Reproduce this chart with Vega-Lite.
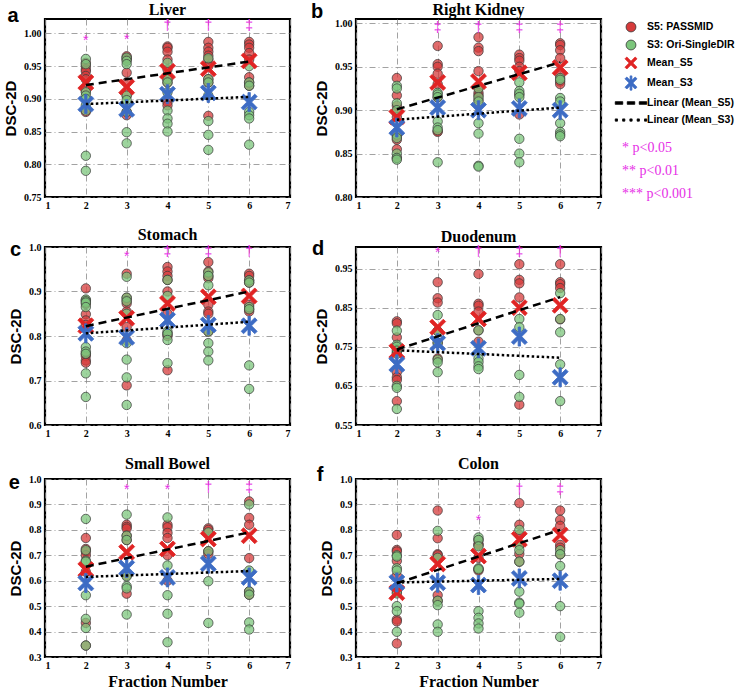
{
"$schema": "https://vega.github.io/schema/vega-lite/v6.json",
"padding": {"left": 2, "top": 0, "right": 0, "bottom": 0},
"background": "white",
"columns": 2,
"spacing": {"row": 14, "column": 17},
"datasets": {
"pts": [
{"o":"Liver","f":2,"s":"S5: PASSMID","v":0.955},{"o":"Liver","f":2,"s":"S5: PASSMID","v":0.950},{"o":"Liver","f":2,"s":"S5: PASSMID","v":0.945},{"o":"Liver","f":2,"s":"S5: PASSMID","v":0.942},{"o":"Liver","f":2,"s":"S5: PASSMID","v":0.935},{"o":"Liver","f":2,"s":"S5: PASSMID","v":0.930},{"o":"Liver","f":2,"s":"S5: PASSMID","v":0.912},{"o":"Liver","f":2,"s":"S5: PASSMID","v":0.885},{"o":"Liver","f":2,"s":"S5: PASSMID","v":0.880},
{"o":"Liver","f":2,"s":"S3: Ori-SingleDIR","v":0.961},{"o":"Liver","f":2,"s":"S3: Ori-SingleDIR","v":0.953},{"o":"Liver","f":2,"s":"S3: Ori-SingleDIR","v":0.910},{"o":"Liver","f":2,"s":"S3: Ori-SingleDIR","v":0.905},{"o":"Liver","f":2,"s":"S3: Ori-SingleDIR","v":0.900},{"o":"Liver","f":2,"s":"S3: Ori-SingleDIR","v":0.890},{"o":"Liver","f":2,"s":"S3: Ori-SingleDIR","v":0.882},{"o":"Liver","f":2,"s":"S3: Ori-SingleDIR","v":0.813},{"o":"Liver","f":2,"s":"S3: Ori-SingleDIR","v":0.790},
{"o":"Liver","f":3,"s":"S5: PASSMID","v":0.965},{"o":"Liver","f":3,"s":"S5: PASSMID","v":0.962},{"o":"Liver","f":3,"s":"S5: PASSMID","v":0.960},{"o":"Liver","f":3,"s":"S5: PASSMID","v":0.940},{"o":"Liver","f":3,"s":"S5: PASSMID","v":0.925},{"o":"Liver","f":3,"s":"S5: PASSMID","v":0.905},{"o":"Liver","f":3,"s":"S5: PASSMID","v":0.880},{"o":"Liver","f":3,"s":"S5: PASSMID","v":0.875},
{"o":"Liver","f":3,"s":"S3: Ori-SingleDIR","v":0.963},{"o":"Liver","f":3,"s":"S3: Ori-SingleDIR","v":0.958},{"o":"Liver","f":3,"s":"S3: Ori-SingleDIR","v":0.953},{"o":"Liver","f":3,"s":"S3: Ori-SingleDIR","v":0.905},{"o":"Liver","f":3,"s":"S3: Ori-SingleDIR","v":0.898},{"o":"Liver","f":3,"s":"S3: Ori-SingleDIR","v":0.880},{"o":"Liver","f":3,"s":"S3: Ori-SingleDIR","v":0.849},{"o":"Liver","f":3,"s":"S3: Ori-SingleDIR","v":0.832},
{"o":"Liver","f":4,"s":"S5: PASSMID","v":0.980},{"o":"Liver","f":4,"s":"S5: PASSMID","v":0.978},{"o":"Liver","f":4,"s":"S5: PASSMID","v":0.972},{"o":"Liver","f":4,"s":"S5: PASSMID","v":0.960},{"o":"Liver","f":4,"s":"S5: PASSMID","v":0.945},{"o":"Liver","f":4,"s":"S5: PASSMID","v":0.930},{"o":"Liver","f":4,"s":"S5: PASSMID","v":0.925},{"o":"Liver","f":4,"s":"S5: PASSMID","v":0.895},{"o":"Liver","f":4,"s":"S5: PASSMID","v":0.890},
{"o":"Liver","f":4,"s":"S3: Ori-SingleDIR","v":0.955},{"o":"Liver","f":4,"s":"S3: Ori-SingleDIR","v":0.930},{"o":"Liver","f":4,"s":"S3: Ori-SingleDIR","v":0.925},{"o":"Liver","f":4,"s":"S3: Ori-SingleDIR","v":0.910},{"o":"Liver","f":4,"s":"S3: Ori-SingleDIR","v":0.882},{"o":"Liver","f":4,"s":"S3: Ori-SingleDIR","v":0.870},{"o":"Liver","f":4,"s":"S3: Ori-SingleDIR","v":0.862},{"o":"Liver","f":4,"s":"S3: Ori-SingleDIR","v":0.850},
{"o":"Liver","f":5,"s":"S5: PASSMID","v":0.987},{"o":"Liver","f":5,"s":"S5: PASSMID","v":0.978},{"o":"Liver","f":5,"s":"S5: PASSMID","v":0.972},{"o":"Liver","f":5,"s":"S5: PASSMID","v":0.966},{"o":"Liver","f":5,"s":"S5: PASSMID","v":0.960},{"o":"Liver","f":5,"s":"S5: PASSMID","v":0.950},{"o":"Liver","f":5,"s":"S5: PASSMID","v":0.930},{"o":"Liver","f":5,"s":"S5: PASSMID","v":0.925},{"o":"Liver","f":5,"s":"S5: PASSMID","v":0.874},
{"o":"Liver","f":5,"s":"S3: Ori-SingleDIR","v":0.962},{"o":"Liver","f":5,"s":"S3: Ori-SingleDIR","v":0.930},{"o":"Liver","f":5,"s":"S3: Ori-SingleDIR","v":0.925},{"o":"Liver","f":5,"s":"S3: Ori-SingleDIR","v":0.905},{"o":"Liver","f":5,"s":"S3: Ori-SingleDIR","v":0.866},{"o":"Liver","f":5,"s":"S3: Ori-SingleDIR","v":0.845},{"o":"Liver","f":5,"s":"S3: Ori-SingleDIR","v":0.822},
{"o":"Liver","f":6,"s":"S5: PASSMID","v":0.987},{"o":"Liver","f":6,"s":"S5: PASSMID","v":0.983},{"o":"Liver","f":6,"s":"S5: PASSMID","v":0.978},{"o":"Liver","f":6,"s":"S5: PASSMID","v":0.970},{"o":"Liver","f":6,"s":"S5: PASSMID","v":0.960},{"o":"Liver","f":6,"s":"S5: PASSMID","v":0.933},{"o":"Liver","f":6,"s":"S5: PASSMID","v":0.925},{"o":"Liver","f":6,"s":"S5: PASSMID","v":0.920},
{"o":"Liver","f":6,"s":"S3: Ori-SingleDIR","v":0.950},{"o":"Liver","f":6,"s":"S3: Ori-SingleDIR","v":0.925},{"o":"Liver","f":6,"s":"S3: Ori-SingleDIR","v":0.920},{"o":"Liver","f":6,"s":"S3: Ori-SingleDIR","v":0.880},{"o":"Liver","f":6,"s":"S3: Ori-SingleDIR","v":0.875},{"o":"Liver","f":6,"s":"S3: Ori-SingleDIR","v":0.870},{"o":"Liver","f":6,"s":"S3: Ori-SingleDIR","v":0.830},

{"o":"Right Kidney","f":2,"s":"S5: PASSMID","v":0.937},{"o":"Right Kidney","f":2,"s":"S5: PASSMID","v":0.917},{"o":"Right Kidney","f":2,"s":"S5: PASSMID","v":0.905},{"o":"Right Kidney","f":2,"s":"S5: PASSMID","v":0.898},{"o":"Right Kidney","f":2,"s":"S5: PASSMID","v":0.892},{"o":"Right Kidney","f":2,"s":"S5: PASSMID","v":0.870},{"o":"Right Kidney","f":2,"s":"S5: PASSMID","v":0.866},{"o":"Right Kidney","f":2,"s":"S5: PASSMID","v":0.855},{"o":"Right Kidney","f":2,"s":"S5: PASSMID","v":0.845},
{"o":"Right Kidney","f":2,"s":"S3: Ori-SingleDIR","v":0.928},{"o":"Right Kidney","f":2,"s":"S3: Ori-SingleDIR","v":0.925},{"o":"Right Kidney","f":2,"s":"S3: Ori-SingleDIR","v":0.908},{"o":"Right Kidney","f":2,"s":"S3: Ori-SingleDIR","v":0.900},{"o":"Right Kidney","f":2,"s":"S3: Ori-SingleDIR","v":0.872},{"o":"Right Kidney","f":2,"s":"S3: Ori-SingleDIR","v":0.868},{"o":"Right Kidney","f":2,"s":"S3: Ori-SingleDIR","v":0.850},{"o":"Right Kidney","f":2,"s":"S3: Ori-SingleDIR","v":0.845},{"o":"Right Kidney","f":2,"s":"S3: Ori-SingleDIR","v":0.843},
{"o":"Right Kidney","f":3,"s":"S5: PASSMID","v":0.974},{"o":"Right Kidney","f":3,"s":"S5: PASSMID","v":0.953},{"o":"Right Kidney","f":3,"s":"S5: PASSMID","v":0.950},{"o":"Right Kidney","f":3,"s":"S5: PASSMID","v":0.942},{"o":"Right Kidney","f":3,"s":"S5: PASSMID","v":0.930},{"o":"Right Kidney","f":3,"s":"S5: PASSMID","v":0.915},{"o":"Right Kidney","f":3,"s":"S5: PASSMID","v":0.876},{"o":"Right Kidney","f":3,"s":"S5: PASSMID","v":0.875},
{"o":"Right Kidney","f":3,"s":"S3: Ori-SingleDIR","v":0.920},{"o":"Right Kidney","f":3,"s":"S3: Ori-SingleDIR","v":0.918},{"o":"Right Kidney","f":3,"s":"S3: Ori-SingleDIR","v":0.915},{"o":"Right Kidney","f":3,"s":"S3: Ori-SingleDIR","v":0.887},{"o":"Right Kidney","f":3,"s":"S3: Ori-SingleDIR","v":0.880},{"o":"Right Kidney","f":3,"s":"S3: Ori-SingleDIR","v":0.877},{"o":"Right Kidney","f":3,"s":"S3: Ori-SingleDIR","v":0.840},
{"o":"Right Kidney","f":4,"s":"S5: PASSMID","v":0.984},{"o":"Right Kidney","f":4,"s":"S5: PASSMID","v":0.972},{"o":"Right Kidney","f":4,"s":"S5: PASSMID","v":0.968},{"o":"Right Kidney","f":4,"s":"S5: PASSMID","v":0.945},{"o":"Right Kidney","f":4,"s":"S5: PASSMID","v":0.926},{"o":"Right Kidney","f":4,"s":"S5: PASSMID","v":0.920},{"o":"Right Kidney","f":4,"s":"S5: PASSMID","v":0.917},{"o":"Right Kidney","f":4,"s":"S5: PASSMID","v":0.912},
{"o":"Right Kidney","f":4,"s":"S3: Ori-SingleDIR","v":0.925},{"o":"Right Kidney","f":4,"s":"S3: Ori-SingleDIR","v":0.915},{"o":"Right Kidney","f":4,"s":"S3: Ori-SingleDIR","v":0.910},{"o":"Right Kidney","f":4,"s":"S3: Ori-SingleDIR","v":0.885},{"o":"Right Kidney","f":4,"s":"S3: Ori-SingleDIR","v":0.873},{"o":"Right Kidney","f":4,"s":"S3: Ori-SingleDIR","v":0.836},{"o":"Right Kidney","f":4,"s":"S3: Ori-SingleDIR","v":0.835},
{"o":"Right Kidney","f":5,"s":"S5: PASSMID","v":0.964},{"o":"Right Kidney","f":5,"s":"S5: PASSMID","v":0.960},{"o":"Right Kidney","f":5,"s":"S5: PASSMID","v":0.957},{"o":"Right Kidney","f":5,"s":"S5: PASSMID","v":0.950},{"o":"Right Kidney","f":5,"s":"S5: PASSMID","v":0.945},{"o":"Right Kidney","f":5,"s":"S5: PASSMID","v":0.918},{"o":"Right Kidney","f":5,"s":"S5: PASSMID","v":0.895},
{"o":"Right Kidney","f":5,"s":"S3: Ori-SingleDIR","v":0.932},{"o":"Right Kidney","f":5,"s":"S3: Ori-SingleDIR","v":0.922},{"o":"Right Kidney","f":5,"s":"S3: Ori-SingleDIR","v":0.919},{"o":"Right Kidney","f":5,"s":"S3: Ori-SingleDIR","v":0.915},{"o":"Right Kidney","f":5,"s":"S3: Ori-SingleDIR","v":0.867},{"o":"Right Kidney","f":5,"s":"S3: Ori-SingleDIR","v":0.850},{"o":"Right Kidney","f":5,"s":"S3: Ori-SingleDIR","v":0.840},
{"o":"Right Kidney","f":6,"s":"S5: PASSMID","v":0.977},{"o":"Right Kidney","f":6,"s":"S5: PASSMID","v":0.975},{"o":"Right Kidney","f":6,"s":"S5: PASSMID","v":0.969},{"o":"Right Kidney","f":6,"s":"S5: PASSMID","v":0.960},{"o":"Right Kidney","f":6,"s":"S5: PASSMID","v":0.940},{"o":"Right Kidney","f":6,"s":"S5: PASSMID","v":0.933},{"o":"Right Kidney","f":6,"s":"S5: PASSMID","v":0.930},
{"o":"Right Kidney","f":6,"s":"S3: Ori-SingleDIR","v":0.937},{"o":"Right Kidney","f":6,"s":"S3: Ori-SingleDIR","v":0.935},{"o":"Right Kidney","f":6,"s":"S3: Ori-SingleDIR","v":0.914},{"o":"Right Kidney","f":6,"s":"S3: Ori-SingleDIR","v":0.910},{"o":"Right Kidney","f":6,"s":"S3: Ori-SingleDIR","v":0.885},{"o":"Right Kidney","f":6,"s":"S3: Ori-SingleDIR","v":0.875},{"o":"Right Kidney","f":6,"s":"S3: Ori-SingleDIR","v":0.872},{"o":"Right Kidney","f":6,"s":"S3: Ori-SingleDIR","v":0.870},

{"o":"Stomach","f":2,"s":"S5: PASSMID","v":0.907},{"o":"Stomach","f":2,"s":"S5: PASSMID","v":0.880},{"o":"Stomach","f":2,"s":"S5: PASSMID","v":0.872},{"o":"Stomach","f":2,"s":"S5: PASSMID","v":0.849},{"o":"Stomach","f":2,"s":"S5: PASSMID","v":0.835},{"o":"Stomach","f":2,"s":"S5: PASSMID","v":0.825},{"o":"Stomach","f":2,"s":"S5: PASSMID","v":0.760},{"o":"Stomach","f":2,"s":"S5: PASSMID","v":0.755},{"o":"Stomach","f":2,"s":"S5: PASSMID","v":0.745},{"o":"Stomach","f":2,"s":"S5: PASSMID","v":0.740},
{"o":"Stomach","f":2,"s":"S3: Ori-SingleDIR","v":0.882},{"o":"Stomach","f":2,"s":"S3: Ori-SingleDIR","v":0.878},{"o":"Stomach","f":2,"s":"S3: Ori-SingleDIR","v":0.875},{"o":"Stomach","f":2,"s":"S3: Ori-SingleDIR","v":0.865},{"o":"Stomach","f":2,"s":"S3: Ori-SingleDIR","v":0.775},{"o":"Stomach","f":2,"s":"S3: Ori-SingleDIR","v":0.765},{"o":"Stomach","f":2,"s":"S3: Ori-SingleDIR","v":0.760},{"o":"Stomach","f":2,"s":"S3: Ori-SingleDIR","v":0.716},{"o":"Stomach","f":2,"s":"S3: Ori-SingleDIR","v":0.663},
{"o":"Stomach","f":3,"s":"S5: PASSMID","v":0.940},{"o":"Stomach","f":3,"s":"S5: PASSMID","v":0.886},{"o":"Stomach","f":3,"s":"S5: PASSMID","v":0.880},{"o":"Stomach","f":3,"s":"S5: PASSMID","v":0.873},{"o":"Stomach","f":3,"s":"S5: PASSMID","v":0.855},{"o":"Stomach","f":3,"s":"S5: PASSMID","v":0.820},{"o":"Stomach","f":3,"s":"S5: PASSMID","v":0.790},{"o":"Stomach","f":3,"s":"S5: PASSMID","v":0.689},
{"o":"Stomach","f":3,"s":"S3: Ori-SingleDIR","v":0.933},{"o":"Stomach","f":3,"s":"S3: Ori-SingleDIR","v":0.886},{"o":"Stomach","f":3,"s":"S3: Ori-SingleDIR","v":0.878},{"o":"Stomach","f":3,"s":"S3: Ori-SingleDIR","v":0.850},{"o":"Stomach","f":3,"s":"S3: Ori-SingleDIR","v":0.784},{"o":"Stomach","f":3,"s":"S3: Ori-SingleDIR","v":0.747},{"o":"Stomach","f":3,"s":"S3: Ori-SingleDIR","v":0.707},{"o":"Stomach","f":3,"s":"S3: Ori-SingleDIR","v":0.645},
{"o":"Stomach","f":4,"s":"S5: PASSMID","v":0.955},{"o":"Stomach","f":4,"s":"S5: PASSMID","v":0.945},{"o":"Stomach","f":4,"s":"S5: PASSMID","v":0.935},{"o":"Stomach","f":4,"s":"S5: PASSMID","v":0.926},{"o":"Stomach","f":4,"s":"S5: PASSMID","v":0.900},{"o":"Stomach","f":4,"s":"S5: PASSMID","v":0.850},{"o":"Stomach","f":4,"s":"S5: PASSMID","v":0.805},{"o":"Stomach","f":4,"s":"S5: PASSMID","v":0.800},{"o":"Stomach","f":4,"s":"S5: PASSMID","v":0.723},
{"o":"Stomach","f":4,"s":"S3: Ori-SingleDIR","v":0.926},{"o":"Stomach","f":4,"s":"S3: Ori-SingleDIR","v":0.890},{"o":"Stomach","f":4,"s":"S3: Ori-SingleDIR","v":0.810},{"o":"Stomach","f":4,"s":"S3: Ori-SingleDIR","v":0.805},{"o":"Stomach","f":4,"s":"S3: Ori-SingleDIR","v":0.791},{"o":"Stomach","f":4,"s":"S3: Ori-SingleDIR","v":0.739},
{"o":"Stomach","f":5,"s":"S5: PASSMID","v":0.966},{"o":"Stomach","f":5,"s":"S5: PASSMID","v":0.945},{"o":"Stomach","f":5,"s":"S5: PASSMID","v":0.935},{"o":"Stomach","f":5,"s":"S5: PASSMID","v":0.930},{"o":"Stomach","f":5,"s":"S5: PASSMID","v":0.870},{"o":"Stomach","f":5,"s":"S5: PASSMID","v":0.855},{"o":"Stomach","f":5,"s":"S5: PASSMID","v":0.850},{"o":"Stomach","f":5,"s":"S5: PASSMID","v":0.810},
{"o":"Stomach","f":5,"s":"S3: Ori-SingleDIR","v":0.943},{"o":"Stomach","f":5,"s":"S3: Ori-SingleDIR","v":0.935},{"o":"Stomach","f":5,"s":"S3: Ori-SingleDIR","v":0.914},{"o":"Stomach","f":5,"s":"S3: Ori-SingleDIR","v":0.810},{"o":"Stomach","f":5,"s":"S3: Ori-SingleDIR","v":0.784},{"o":"Stomach","f":5,"s":"S3: Ori-SingleDIR","v":0.765},{"o":"Stomach","f":5,"s":"S3: Ori-SingleDIR","v":0.745},
{"o":"Stomach","f":6,"s":"S5: PASSMID","v":0.940},{"o":"Stomach","f":6,"s":"S5: PASSMID","v":0.935},{"o":"Stomach","f":6,"s":"S5: PASSMID","v":0.925},{"o":"Stomach","f":6,"s":"S5: PASSMID","v":0.920},{"o":"Stomach","f":6,"s":"S5: PASSMID","v":0.870},{"o":"Stomach","f":6,"s":"S5: PASSMID","v":0.860},{"o":"Stomach","f":6,"s":"S5: PASSMID","v":0.855},
{"o":"Stomach","f":6,"s":"S3: Ori-SingleDIR","v":0.925},{"o":"Stomach","f":6,"s":"S3: Ori-SingleDIR","v":0.920},{"o":"Stomach","f":6,"s":"S3: Ori-SingleDIR","v":0.865},{"o":"Stomach","f":6,"s":"S3: Ori-SingleDIR","v":0.860},{"o":"Stomach","f":6,"s":"S3: Ori-SingleDIR","v":0.734},{"o":"Stomach","f":6,"s":"S3: Ori-SingleDIR","v":0.681},

{"o":"Duodenum","f":2,"s":"S5: PASSMID","v":0.815},{"o":"Duodenum","f":2,"s":"S5: PASSMID","v":0.810},{"o":"Duodenum","f":2,"s":"S5: PASSMID","v":0.774},{"o":"Duodenum","f":2,"s":"S5: PASSMID","v":0.745},{"o":"Duodenum","f":2,"s":"S5: PASSMID","v":0.735},{"o":"Duodenum","f":2,"s":"S5: PASSMID","v":0.685},{"o":"Duodenum","f":2,"s":"S5: PASSMID","v":0.672},{"o":"Duodenum","f":2,"s":"S5: PASSMID","v":0.665},{"o":"Duodenum","f":2,"s":"S5: PASSMID","v":0.611},
{"o":"Duodenum","f":2,"s":"S3: Ori-SingleDIR","v":0.791},{"o":"Duodenum","f":2,"s":"S3: Ori-SingleDIR","v":0.755},{"o":"Duodenum","f":2,"s":"S3: Ori-SingleDIR","v":0.750},{"o":"Duodenum","f":2,"s":"S3: Ori-SingleDIR","v":0.740},{"o":"Duodenum","f":2,"s":"S3: Ori-SingleDIR","v":0.732},{"o":"Duodenum","f":2,"s":"S3: Ori-SingleDIR","v":0.650},{"o":"Duodenum","f":2,"s":"S3: Ori-SingleDIR","v":0.645},{"o":"Duodenum","f":2,"s":"S3: Ori-SingleDIR","v":0.591},
{"o":"Duodenum","f":3,"s":"S5: PASSMID","v":0.915},{"o":"Duodenum","f":3,"s":"S5: PASSMID","v":0.874},{"o":"Duodenum","f":3,"s":"S5: PASSMID","v":0.863},{"o":"Duodenum","f":3,"s":"S5: PASSMID","v":0.790},{"o":"Duodenum","f":3,"s":"S5: PASSMID","v":0.760},{"o":"Duodenum","f":3,"s":"S5: PASSMID","v":0.720},
{"o":"Duodenum","f":3,"s":"S3: Ori-SingleDIR","v":0.831},{"o":"Duodenum","f":3,"s":"S3: Ori-SingleDIR","v":0.790},{"o":"Duodenum","f":3,"s":"S3: Ori-SingleDIR","v":0.760},{"o":"Duodenum","f":3,"s":"S3: Ori-SingleDIR","v":0.717},{"o":"Duodenum","f":3,"s":"S3: Ori-SingleDIR","v":0.710},{"o":"Duodenum","f":3,"s":"S3: Ori-SingleDIR","v":0.685},
{"o":"Duodenum","f":4,"s":"S5: PASSMID","v":0.936},{"o":"Duodenum","f":4,"s":"S5: PASSMID","v":0.860},{"o":"Duodenum","f":4,"s":"S5: PASSMID","v":0.855},{"o":"Duodenum","f":4,"s":"S5: PASSMID","v":0.840},{"o":"Duodenum","f":4,"s":"S5: PASSMID","v":0.792},{"o":"Duodenum","f":4,"s":"S5: PASSMID","v":0.763},
{"o":"Duodenum","f":4,"s":"S3: Ori-SingleDIR","v":0.792},{"o":"Duodenum","f":4,"s":"S3: Ori-SingleDIR","v":0.720},{"o":"Duodenum","f":4,"s":"S3: Ori-SingleDIR","v":0.711},{"o":"Duodenum","f":4,"s":"S3: Ori-SingleDIR","v":0.700},{"o":"Duodenum","f":4,"s":"S3: Ori-SingleDIR","v":0.693},
{"o":"Duodenum","f":5,"s":"S5: PASSMID","v":0.961},{"o":"Duodenum","f":5,"s":"S5: PASSMID","v":0.921},{"o":"Duodenum","f":5,"s":"S5: PASSMID","v":0.912},{"o":"Duodenum","f":5,"s":"S5: PASSMID","v":0.876},{"o":"Duodenum","f":5,"s":"S5: PASSMID","v":0.602},
{"o":"Duodenum","f":5,"s":"S3: Ori-SingleDIR","v":0.821},{"o":"Duodenum","f":5,"s":"S3: Ori-SingleDIR","v":0.800},{"o":"Duodenum","f":5,"s":"S3: Ori-SingleDIR","v":0.678},{"o":"Duodenum","f":5,"s":"S3: Ori-SingleDIR","v":0.622},
{"o":"Duodenum","f":6,"s":"S5: PASSMID","v":0.961},{"o":"Duodenum","f":6,"s":"S5: PASSMID","v":0.915},{"o":"Duodenum","f":6,"s":"S5: PASSMID","v":0.910},{"o":"Duodenum","f":6,"s":"S5: PASSMID","v":0.900},{"o":"Duodenum","f":6,"s":"S5: PASSMID","v":0.820},
{"o":"Duodenum","f":6,"s":"S3: Ori-SingleDIR","v":0.887},{"o":"Duodenum","f":6,"s":"S3: Ori-SingleDIR","v":0.821},{"o":"Duodenum","f":6,"s":"S3: Ori-SingleDIR","v":0.787},{"o":"Duodenum","f":6,"s":"S3: Ori-SingleDIR","v":0.705},{"o":"Duodenum","f":6,"s":"S3: Ori-SingleDIR","v":0.611},

{"o":"Small Bowel","f":2,"s":"S5: PASSMID","v":0.768},{"o":"Small Bowel","f":2,"s":"S5: PASSMID","v":0.725},{"o":"Small Bowel","f":2,"s":"S5: PASSMID","v":0.715},{"o":"Small Bowel","f":2,"s":"S5: PASSMID","v":0.700},{"o":"Small Bowel","f":2,"s":"S5: PASSMID","v":0.635},{"o":"Small Bowel","f":2,"s":"S5: PASSMID","v":0.434},{"o":"Small Bowel","f":2,"s":"S5: PASSMID","v":0.345},
{"o":"Small Bowel","f":2,"s":"S3: Ori-SingleDIR","v":0.843},{"o":"Small Bowel","f":2,"s":"S3: Ori-SingleDIR","v":0.720},{"o":"Small Bowel","f":2,"s":"S3: Ori-SingleDIR","v":0.679},{"o":"Small Bowel","f":2,"s":"S3: Ori-SingleDIR","v":0.675},{"o":"Small Bowel","f":2,"s":"S3: Ori-SingleDIR","v":0.543},{"o":"Small Bowel","f":2,"s":"S3: Ori-SingleDIR","v":0.450},{"o":"Small Bowel","f":2,"s":"S3: Ori-SingleDIR","v":0.414},{"o":"Small Bowel","f":2,"s":"S3: Ori-SingleDIR","v":0.345},
{"o":"Small Bowel","f":3,"s":"S5: PASSMID","v":0.820},{"o":"Small Bowel","f":3,"s":"S5: PASSMID","v":0.812},{"o":"Small Bowel","f":3,"s":"S5: PASSMID","v":0.805},{"o":"Small Bowel","f":3,"s":"S5: PASSMID","v":0.777},{"o":"Small Bowel","f":3,"s":"S5: PASSMID","v":0.760},{"o":"Small Bowel","f":3,"s":"S5: PASSMID","v":0.620},{"o":"Small Bowel","f":3,"s":"S5: PASSMID","v":0.549},
{"o":"Small Bowel","f":3,"s":"S3: Ori-SingleDIR","v":0.860},{"o":"Small Bowel","f":3,"s":"S3: Ori-SingleDIR","v":0.777},{"o":"Small Bowel","f":3,"s":"S3: Ori-SingleDIR","v":0.760},{"o":"Small Bowel","f":3,"s":"S3: Ori-SingleDIR","v":0.617},{"o":"Small Bowel","f":3,"s":"S3: Ori-SingleDIR","v":0.578},{"o":"Small Bowel","f":3,"s":"S3: Ori-SingleDIR","v":0.570},{"o":"Small Bowel","f":3,"s":"S3: Ori-SingleDIR","v":0.467},
{"o":"Small Bowel","f":4,"s":"S5: PASSMID","v":0.820},{"o":"Small Bowel","f":4,"s":"S5: PASSMID","v":0.810},{"o":"Small Bowel","f":4,"s":"S5: PASSMID","v":0.788},{"o":"Small Bowel","f":4,"s":"S5: PASSMID","v":0.768},{"o":"Small Bowel","f":4,"s":"S5: PASSMID","v":0.700},{"o":"Small Bowel","f":4,"s":"S5: PASSMID","v":0.600},
{"o":"Small Bowel","f":4,"s":"S3: Ori-SingleDIR","v":0.849},{"o":"Small Bowel","f":4,"s":"S3: Ori-SingleDIR","v":0.660},{"o":"Small Bowel","f":4,"s":"S3: Ori-SingleDIR","v":0.543},{"o":"Small Bowel","f":4,"s":"S3: Ori-SingleDIR","v":0.470},{"o":"Small Bowel","f":4,"s":"S3: Ori-SingleDIR","v":0.358},
{"o":"Small Bowel","f":5,"s":"S5: PASSMID","v":0.806},{"o":"Small Bowel","f":5,"s":"S5: PASSMID","v":0.800},{"o":"Small Bowel","f":5,"s":"S5: PASSMID","v":0.716},{"o":"Small Bowel","f":5,"s":"S5: PASSMID","v":0.705},
{"o":"Small Bowel","f":5,"s":"S3: Ori-SingleDIR","v":0.790},{"o":"Small Bowel","f":5,"s":"S3: Ori-SingleDIR","v":0.716},{"o":"Small Bowel","f":5,"s":"S3: Ori-SingleDIR","v":0.598},{"o":"Small Bowel","f":5,"s":"S3: Ori-SingleDIR","v":0.434},
{"o":"Small Bowel","f":6,"s":"S5: PASSMID","v":0.912},{"o":"Small Bowel","f":6,"s":"S5: PASSMID","v":0.847},{"o":"Small Bowel","f":6,"s":"S5: PASSMID","v":0.820},{"o":"Small Bowel","f":6,"s":"S5: PASSMID","v":0.689},{"o":"Small Bowel","f":6,"s":"S5: PASSMID","v":0.558},{"o":"Small Bowel","f":6,"s":"S5: PASSMID","v":0.545},
{"o":"Small Bowel","f":6,"s":"S3: Ori-SingleDIR","v":0.900},{"o":"Small Bowel","f":6,"s":"S3: Ori-SingleDIR","v":0.640},{"o":"Small Bowel","f":6,"s":"S3: Ori-SingleDIR","v":0.558},{"o":"Small Bowel","f":6,"s":"S3: Ori-SingleDIR","v":0.545},{"o":"Small Bowel","f":6,"s":"S3: Ori-SingleDIR","v":0.436},{"o":"Small Bowel","f":6,"s":"S3: Ori-SingleDIR","v":0.408},

{"o":"Colon","f":2,"s":"S5: PASSMID","v":0.780},{"o":"Colon","f":2,"s":"S5: PASSMID","v":0.721},{"o":"Colon","f":2,"s":"S5: PASSMID","v":0.715},{"o":"Colon","f":2,"s":"S5: PASSMID","v":0.678},{"o":"Colon","f":2,"s":"S5: PASSMID","v":0.620},{"o":"Colon","f":2,"s":"S5: PASSMID","v":0.556},{"o":"Colon","f":2,"s":"S5: PASSMID","v":0.447},{"o":"Colon","f":2,"s":"S5: PASSMID","v":0.440},{"o":"Colon","f":2,"s":"S5: PASSMID","v":0.353},
{"o":"Colon","f":2,"s":"S3: Ori-SingleDIR","v":0.700},{"o":"Colon","f":2,"s":"S3: Ori-SingleDIR","v":0.695},{"o":"Colon","f":2,"s":"S3: Ori-SingleDIR","v":0.649},{"o":"Colon","f":2,"s":"S3: Ori-SingleDIR","v":0.640},{"o":"Colon","f":2,"s":"S3: Ori-SingleDIR","v":0.550},{"o":"Colon","f":2,"s":"S3: Ori-SingleDIR","v":0.500},{"o":"Colon","f":2,"s":"S3: Ori-SingleDIR","v":0.480},{"o":"Colon","f":2,"s":"S3: Ori-SingleDIR","v":0.399},
{"o":"Colon","f":3,"s":"S5: PASSMID","v":0.876},{"o":"Colon","f":3,"s":"S5: PASSMID","v":0.767},{"o":"Colon","f":3,"s":"S5: PASSMID","v":0.704},{"o":"Colon","f":3,"s":"S5: PASSMID","v":0.700},{"o":"Colon","f":3,"s":"S5: PASSMID","v":0.543},{"o":"Colon","f":3,"s":"S5: PASSMID","v":0.521},
{"o":"Colon","f":3,"s":"S3: Ori-SingleDIR","v":0.796},{"o":"Colon","f":3,"s":"S3: Ori-SingleDIR","v":0.690},{"o":"Colon","f":3,"s":"S3: Ori-SingleDIR","v":0.521},{"o":"Colon","f":3,"s":"S3: Ori-SingleDIR","v":0.504},{"o":"Colon","f":3,"s":"S3: Ori-SingleDIR","v":0.428},{"o":"Colon","f":3,"s":"S3: Ori-SingleDIR","v":0.399},
{"o":"Colon","f":4,"s":"S5: PASSMID","v":0.760},{"o":"Colon","f":4,"s":"S5: PASSMID","v":0.745},{"o":"Colon","f":4,"s":"S5: PASSMID","v":0.740},{"o":"Colon","f":4,"s":"S5: PASSMID","v":0.690},{"o":"Colon","f":4,"s":"S5: PASSMID","v":0.645},{"o":"Colon","f":4,"s":"S5: PASSMID","v":0.640},
{"o":"Colon","f":4,"s":"S3: Ori-SingleDIR","v":0.770},{"o":"Colon","f":4,"s":"S3: Ori-SingleDIR","v":0.760},{"o":"Colon","f":4,"s":"S3: Ori-SingleDIR","v":0.735},{"o":"Colon","f":4,"s":"S3: Ori-SingleDIR","v":0.649},{"o":"Colon","f":4,"s":"S3: Ori-SingleDIR","v":0.645},{"o":"Colon","f":4,"s":"S3: Ori-SingleDIR","v":0.480},{"o":"Colon","f":4,"s":"S3: Ori-SingleDIR","v":0.454},{"o":"Colon","f":4,"s":"S3: Ori-SingleDIR","v":0.432},{"o":"Colon","f":4,"s":"S3: Ori-SingleDIR","v":0.412},
{"o":"Colon","f":5,"s":"S5: PASSMID","v":0.905},{"o":"Colon","f":5,"s":"S5: PASSMID","v":0.820},{"o":"Colon","f":5,"s":"S5: PASSMID","v":0.780},{"o":"Colon","f":5,"s":"S5: PASSMID","v":0.740},{"o":"Colon","f":5,"s":"S5: PASSMID","v":0.705},{"o":"Colon","f":5,"s":"S5: PASSMID","v":0.675},
{"o":"Colon","f":5,"s":"S3: Ori-SingleDIR","v":0.800},{"o":"Colon","f":5,"s":"S3: Ori-SingleDIR","v":0.740},{"o":"Colon","f":5,"s":"S3: Ori-SingleDIR","v":0.720},{"o":"Colon","f":5,"s":"S3: Ori-SingleDIR","v":0.675},{"o":"Colon","f":5,"s":"S3: Ori-SingleDIR","v":0.557},{"o":"Colon","f":5,"s":"S3: Ori-SingleDIR","v":0.514},{"o":"Colon","f":5,"s":"S3: Ori-SingleDIR","v":0.510},{"o":"Colon","f":5,"s":"S3: Ori-SingleDIR","v":0.474},
{"o":"Colon","f":6,"s":"S5: PASSMID","v":0.876},{"o":"Colon","f":6,"s":"S5: PASSMID","v":0.839},{"o":"Colon","f":6,"s":"S5: PASSMID","v":0.816},{"o":"Colon","f":6,"s":"S5: PASSMID","v":0.741},{"o":"Colon","f":6,"s":"S5: PASSMID","v":0.730},{"o":"Colon","f":6,"s":"S5: PASSMID","v":0.704},
{"o":"Colon","f":6,"s":"S3: Ori-SingleDIR","v":0.720},{"o":"Colon","f":6,"s":"S3: Ori-SingleDIR","v":0.704},{"o":"Colon","f":6,"s":"S3: Ori-SingleDIR","v":0.658},{"o":"Colon","f":6,"s":"S3: Ori-SingleDIR","v":0.500},{"o":"Colon","f":6,"s":"S3: Ori-SingleDIR","v":0.379}
],
"means": [
{"o":"Liver","f":2,"s":"Mean_S5","v":0.925},{"o":"Liver","f":3,"s":"Mean_S5","v":0.918},{"o":"Liver","f":4,"s":"Mean_S5","v":0.942},{"o":"Liver","f":5,"s":"Mean_S5","v":0.946},{"o":"Liver","f":6,"s":"Mean_S5","v":0.958},
{"o":"Liver","f":2,"s":"Mean_S3","v":0.892},{"o":"Liver","f":3,"s":"Mean_S3","v":0.884},{"o":"Liver","f":4,"s":"Mean_S3","v":0.907},{"o":"Liver","f":5,"s":"Mean_S3","v":0.909},{"o":"Liver","f":6,"s":"Mean_S3","v":0.895},
{"o":"Right Kidney","f":2,"s":"Mean_S5","v":0.892},{"o":"Right Kidney","f":3,"s":"Mean_S5","v":0.932},{"o":"Right Kidney","f":4,"s":"Mean_S5","v":0.933},{"o":"Right Kidney","f":5,"s":"Mean_S5","v":0.943},{"o":"Right Kidney","f":6,"s":"Mean_S5","v":0.949},
{"o":"Right Kidney","f":2,"s":"Mean_S3","v":0.880},{"o":"Right Kidney","f":3,"s":"Mean_S3","v":0.903},{"o":"Right Kidney","f":4,"s":"Mean_S3","v":0.900},{"o":"Right Kidney","f":5,"s":"Mean_S3","v":0.902},{"o":"Right Kidney","f":6,"s":"Mean_S3","v":0.900},
{"o":"Stomach","f":2,"s":"Mean_S5","v":0.823},{"o":"Stomach","f":3,"s":"Mean_S5","v":0.840},{"o":"Stomach","f":4,"s":"Mean_S5","v":0.873},{"o":"Stomach","f":5,"s":"Mean_S5","v":0.888},{"o":"Stomach","f":6,"s":"Mean_S5","v":0.890},
{"o":"Stomach","f":2,"s":"Mean_S3","v":0.806},{"o":"Stomach","f":3,"s":"Mean_S3","v":0.797},{"o":"Stomach","f":4,"s":"Mean_S3","v":0.836},{"o":"Stomach","f":5,"s":"Mean_S3","v":0.825},{"o":"Stomach","f":6,"s":"Mean_S3","v":0.823},
{"o":"Duodenum","f":2,"s":"Mean_S5","v":0.738},{"o":"Duodenum","f":3,"s":"Mean_S5","v":0.800},{"o":"Duodenum","f":4,"s":"Mean_S5","v":0.821},{"o":"Duodenum","f":5,"s":"Mean_S5","v":0.850},{"o":"Duodenum","f":6,"s":"Mean_S5","v":0.856},
{"o":"Duodenum","f":2,"s":"Mean_S3","v":0.705},{"o":"Duodenum","f":3,"s":"Mean_S3","v":0.759},{"o":"Duodenum","f":4,"s":"Mean_S3","v":0.746},{"o":"Duodenum","f":5,"s":"Mean_S3","v":0.776},{"o":"Duodenum","f":6,"s":"Mean_S3","v":0.672},
{"o":"Small Bowel","f":2,"s":"Mean_S5","v":0.644},{"o":"Small Bowel","f":3,"s":"Mean_S5","v":0.712},{"o":"Small Bowel","f":4,"s":"Mean_S5","v":0.725},{"o":"Small Bowel","f":5,"s":"Mean_S5","v":0.764},{"o":"Small Bowel","f":6,"s":"Mean_S5","v":0.777},
{"o":"Small Bowel","f":2,"s":"Mean_S3","v":0.591},{"o":"Small Bowel","f":3,"s":"Mean_S3","v":0.650},{"o":"Small Bowel","f":4,"s":"Mean_S3","v":0.613},{"o":"Small Bowel","f":5,"s":"Mean_S3","v":0.667},{"o":"Small Bowel","f":6,"s":"Mean_S3","v":0.613},
{"o":"Colon","f":2,"s":"Mean_S5","v":0.553},{"o":"Colon","f":3,"s":"Mean_S5","v":0.666},{"o":"Colon","f":4,"s":"Mean_S5","v":0.697},{"o":"Colon","f":5,"s":"Mean_S5","v":0.763},{"o":"Colon","f":6,"s":"Mean_S5","v":0.780},
{"o":"Colon","f":2,"s":"Mean_S3","v":0.593},{"o":"Colon","f":3,"s":"Mean_S3","v":0.592},{"o":"Colon","f":4,"s":"Mean_S3","v":0.583},{"o":"Colon","f":5,"s":"Mean_S3","v":0.609},{"o":"Colon","f":6,"s":"Mean_S3","v":0.600}
],
"trend": [
{"o":"Liver","f":2,"s":"Linear (Mean_S5)","v":0.921},{"o":"Liver","f":6,"s":"Linear (Mean_S5)","v":0.957},{"o":"Liver","f":2,"s":"Linear (Mean_S3)","v":0.892},{"o":"Liver","f":6,"s":"Linear (Mean_S3)","v":0.903},
{"o":"Right Kidney","f":2,"s":"Linear (Mean_S5)","v":0.901},{"o":"Right Kidney","f":6,"s":"Linear (Mean_S5)","v":0.955},{"o":"Right Kidney","f":2,"s":"Linear (Mean_S3)","v":0.889},{"o":"Right Kidney","f":6,"s":"Linear (Mean_S3)","v":0.903},
{"o":"Stomach","f":2,"s":"Linear (Mean_S5)","v":0.822},{"o":"Stomach","f":6,"s":"Linear (Mean_S5)","v":0.900},{"o":"Stomach","f":2,"s":"Linear (Mean_S3)","v":0.806},{"o":"Stomach","f":6,"s":"Linear (Mean_S3)","v":0.832},
{"o":"Duodenum","f":2,"s":"Linear (Mean_S5)","v":0.743},{"o":"Duodenum","f":6,"s":"Linear (Mean_S5)","v":0.877},{"o":"Duodenum","f":2,"s":"Linear (Mean_S3)","v":0.741},{"o":"Duodenum","f":6,"s":"Linear (Mean_S3)","v":0.722},
{"o":"Small Bowel","f":2,"s":"Linear (Mean_S5)","v":0.655},{"o":"Small Bowel","f":6,"s":"Linear (Mean_S5)","v":0.790},{"o":"Small Bowel","f":2,"s":"Linear (Mean_S3)","v":0.615},{"o":"Small Bowel","f":6,"s":"Linear (Mean_S3)","v":0.638},
{"o":"Colon","f":2,"s":"Linear (Mean_S5)","v":0.590},{"o":"Colon","f":6,"s":"Linear (Mean_S5)","v":0.800},{"o":"Colon","f":2,"s":"Linear (Mean_S3)","v":0.593},{"o":"Colon","f":6,"s":"Linear (Mean_S3)","v":0.607}
],
"sig": [
{"o":"Liver","f":2,"v":0.988,"m":"*","p":"* p<0.05"},{"o":"Liver","f":3,"v":0.990,"m":"*","p":"* p<0.05"},{"o":"Liver","f":4,"v":1.011,"m":"†","p":"** p<0.01"},{"o":"Liver","f":5,"v":1.011,"m":"†","p":"** p<0.01"},{"o":"Liver","f":6,"v":1.011,"m":"‡","p":"*** p<0.001"},
{"o":"Right Kidney","f":3,"v":0.995,"m":"‡","p":"*** p<0.001"},{"o":"Right Kidney","f":4,"v":0.995,"m":"†","p":"** p<0.01"},{"o":"Right Kidney","f":5,"v":0.995,"m":"‡","p":"*** p<0.001"},{"o":"Right Kidney","f":6,"v":0.995,"m":"‡","p":"*** p<0.001"},
{"o":"Stomach","f":3,"v":0.977,"m":"*","p":"* p<0.05"},{"o":"Stomach","f":4,"v":0.988,"m":"‡","p":"*** p<0.001"},{"o":"Stomach","f":5,"v":0.988,"m":"‡","p":"*** p<0.001"},{"o":"Stomach","f":6,"v":0.988,"m":"†","p":"** p<0.01"},
{"o":"Duodenum","f":3,"v":0.990,"m":"*","p":"* p<0.05"},{"o":"Duodenum","f":4,"v":0.992,"m":"†","p":"** p<0.01"},{"o":"Duodenum","f":5,"v":0.992,"m":"‡","p":"*** p<0.001"},{"o":"Duodenum","f":6,"v":0.992,"m":"†","p":"** p<0.01"},
{"o":"Small Bowel","f":3,"v":0.957,"m":"*","p":"* p<0.05"},{"o":"Small Bowel","f":4,"v":0.957,"m":"*","p":"* p<0.05"},{"o":"Small Bowel","f":5,"v":0.963,"m":"†","p":"** p<0.01"},{"o":"Small Bowel","f":6,"v":0.963,"m":"‡","p":"*** p<0.001"},
{"o":"Colon","f":4,"v":0.836,"m":"*","p":"* p<0.05"},{"o":"Colon","f":5,"v":0.957,"m":"†","p":"** p<0.01"},{"o":"Colon","f":6,"v":0.955,"m":"‡","p":"*** p<0.001"}
]
},
"concat": [
{
"title": {"text": "Liver", "offset": -12}, "width": 245, "height": 178,
"layer": [
{"data": {"name": "pts"}, "transform": [{"filter": "datum.o === 'Liver'"}],
 "mark": {"type": "point", "filled": true, "size": 203, "fillOpacity": 0.75, "strokeWidth": 0.8, "strokeOpacity": 0.9},
 "encoding": {
  "x": {"field": "f", "type": "quantitative", "scale": {"domain": [1, 7], "nice": false}, "axis": {"values": [1,2,3,4,5,6,7], "tickCount": 20, "format": "d", "title": null}},
  "y": {"field": "v", "type": "quantitative", "scale": {"domain": [0.75, 1.022], "nice": false, "zero": false}, "axis": {"values": [0.75,0.8,0.85,0.9,0.95,1.0], "tickCount": 20, "format": ".2f", "title": "DSC-2D"}},
  "color": {"field": "s", "type": "nominal", "scale": {"domain": ["S5: PASSMID","S3: Ori-SingleDIR","Mean_S5","Mean_S3","Linear (Mean_S5)","Linear (Mean_S3)"], "range": ["#d63b3b","#7cc67c","#e02424","#3d6cc4","#000000","#000000"]}, "legend": {"title": null, "orient": "none", "legendX": 578, "legendY": 0}},
  "stroke": {"field": "s", "type": "nominal", "scale": {"domain": ["S5: PASSMID","S3: Ori-SingleDIR","Mean_S5","Mean_S3","Linear (Mean_S5)","Linear (Mean_S3)"], "range": ["#3b3b3b","#3b3b3b","#e02424","#3d6cc4","#000000","#000000"]}, "legend": {"title": null, "orient": "none", "legendX": 578, "legendY": 0}},
  "shape": {"field": "s", "type": "nominal", "scale": {"domain": ["S5: PASSMID","S3: Ori-SingleDIR","Mean_S5","Mean_S3","Linear (Mean_S5)","Linear (Mean_S3)"], "range": ["M-0.66,0A0.66,0.66 0 1,1 0.66,0A0.66,0.66 0 1,1 -0.66,0Z","M-0.66,0A0.66,0.66 0 1,1 0.66,0A0.66,0.66 0 1,1 -0.66,0Z","M-0.8,-0.56L-0.56,-0.8L0,-0.24L0.56,-0.8L0.8,-0.56L0.24,0L0.8,0.56L0.56,0.8L0,0.24L-0.56,0.8L-0.8,0.56L-0.24,0Z","M-0.8,-0.56L-0.56,-0.8L0,-0.24L0.56,-0.8L0.8,-0.56L0.24,0L0.8,0.56L0.56,0.8L0,0.24L-0.56,0.8L-0.8,0.56L-0.24,0ZM-0.12,-0.95L0.12,-0.95L0.12,0.95L-0.12,0.95Z","M-2.1,-0.18L-1.1,-0.18L-1.1,0.18L-2.1,0.18ZM-0.5,-0.18L0.5,-0.18L0.5,0.18L-0.5,0.18ZM1.1,-0.18L2.1,-0.18L2.1,0.18L1.1,0.18Z","M-2.1,-0.15L-1.8,-0.15L-1.8,0.15L-2.1,0.15ZM-1.12,-0.15L-0.82,-0.15L-0.82,0.15L-1.12,0.15ZM-0.15,-0.15L0.15,-0.15L0.15,0.15L-0.15,0.15ZM0.82,-0.15L1.12,-0.15L1.12,0.15L0.82,0.15ZM1.8,-0.15L2.1,-0.15L2.1,0.15L1.8,0.15Z"]}, "legend": {"title": null, "orient": "none", "legendX": 578, "legendY": 0}}
 }},
{"data": {"name": "means"}, "transform": [{"filter": "datum.o === 'Liver'"}],
 "mark": {"type": "point", "filled": true, "size": 400, "opacity": 1, "strokeWidth": 0.8},
 "encoding": {"x": {"field": "f", "type": "quantitative", "scale": {"domain": [1, 7], "nice": false}}, "y": {"field": "v", "type": "quantitative", "scale": {"domain": [0.75, 1.022], "nice": false, "zero": false}},
  "color": {"field": "s", "type": "nominal", "legend": {"title": null}}, "stroke": {"field": "s", "type": "nominal", "legend": {"title": null}}, "shape": {"field": "s", "type": "nominal", "legend": {"title": null}}}},
{"data": {"name": "trend"}, "transform": [{"filter": "datum.o === 'Liver'"}],
 "mark": {"type": "line", "strokeWidth": 2.5},
 "encoding": {"x": {"field": "f", "type": "quantitative", "scale": {"domain": [1, 7], "nice": false}}, "y": {"field": "v", "type": "quantitative", "scale": {"domain": [0.75, 1.022], "nice": false, "zero": false}},
  "stroke": {"field": "s", "type": "nominal", "legend": null},
  "strokeDash": {"field": "s", "type": "nominal", "scale": {"domain": ["Linear (Mean_S5)","Linear (Mean_S3)"], "range": [[8,5],[2.5,2.5]]}, "legend": null}}},
{"data": {"name": "sig"}, "transform": [{"filter": "datum.o === 'Liver'"}],
 "mark": {"type": "text", "font": "Liberation Sans", "fontSize": 14, "baseline": "middle"},
 "encoding": {"x": {"field": "f", "type": "quantitative", "scale": {"domain": [1, 7], "nice": false}}, "y": {"field": "v", "type": "quantitative", "scale": {"domain": [0.75, 1.022], "nice": false, "zero": false}}, "text": {"field": "m"},
  "fill": {"field": "p", "type": "nominal", "scale": {"domain": ["* p<0.05","** p<0.01","*** p<0.001"], "range": ["#e62ee6","#e62ee6","#e62ee6"]}, "legend": {"title": null, "orient": "none", "legendX": 563, "legendY": 122, "labelFont": "Liberation Serif", "labelFontWeight": "normal", "labelFontSize": 14, "labelColor": "#e62ee6", "symbolOpacity": 0, "symbolSize": 4, "labelOffset": 0, "rowPadding": 9}}}},
{"data": {"values": [{"t": "a"}]},
 "mark": {"type": "text", "font": "Liberation Sans", "fontSize": 20, "fontWeight": "bold", "baseline": "middle", "clip": false},
 "encoding": {"text": {"field": "t"}, "x": {"datum": 0.22, "scale": {"domain": [1, 7], "nice": false}}, "y": {"datum": 1.027, "scale": {"domain": [0.75, 1.022], "nice": false, "zero": false}}}}
]
},
{
"title": {"text": "Right Kidney", "offset": -16}, "width": 245, "height": 178,
"layer": [
{"data": {"name": "pts"}, "transform": [{"filter": "datum.o === 'Right Kidney'"}],
 "mark": {"type": "point", "filled": true, "size": 203, "fillOpacity": 0.75, "strokeWidth": 0.8, "strokeOpacity": 0.9},
 "encoding": {
  "x": {"field": "f", "type": "quantitative", "scale": {"domain": [1, 7], "nice": false}, "axis": {"values": [1,2,3,4,5,6,7], "tickCount": 20, "format": "d", "title": null}},
  "y": {"field": "v", "type": "quantitative", "scale": {"domain": [0.8, 1.005], "nice": false, "zero": false}, "axis": {"values": [0.8,0.85,0.9,0.95,1.0], "tickCount": 20, "format": ".2f", "title": "DSC-2D"}},
  "color": {"field": "s", "type": "nominal", "legend": {"title": null}}, "stroke": {"field": "s", "type": "nominal", "legend": {"title": null}}, "shape": {"field": "s", "type": "nominal", "legend": {"title": null}}}},
{"data": {"name": "means"}, "transform": [{"filter": "datum.o === 'Right Kidney'"}],
 "mark": {"type": "point", "filled": true, "size": 400, "opacity": 1, "strokeWidth": 0.8},
 "encoding": {"x": {"field": "f", "type": "quantitative", "scale": {"domain": [1, 7], "nice": false}}, "y": {"field": "v", "type": "quantitative", "scale": {"domain": [0.8, 1.005], "nice": false, "zero": false}},
  "color": {"field": "s", "type": "nominal", "legend": {"title": null}}, "stroke": {"field": "s", "type": "nominal", "legend": {"title": null}}, "shape": {"field": "s", "type": "nominal", "legend": {"title": null}}}},
{"data": {"name": "trend"}, "transform": [{"filter": "datum.o === 'Right Kidney'"}],
 "mark": {"type": "line", "strokeWidth": 2.5},
 "encoding": {"x": {"field": "f", "type": "quantitative", "scale": {"domain": [1, 7], "nice": false}}, "y": {"field": "v", "type": "quantitative", "scale": {"domain": [0.8, 1.005], "nice": false, "zero": false}},
  "stroke": {"field": "s", "type": "nominal", "legend": null},
  "strokeDash": {"field": "s", "type": "nominal", "scale": {"domain": ["Linear (Mean_S5)","Linear (Mean_S3)"], "range": [[8,5],[2.5,2.5]]}, "legend": null}}},
{"data": {"name": "sig"}, "transform": [{"filter": "datum.o === 'Right Kidney'"}],
 "mark": {"type": "text", "font": "Liberation Sans", "fontSize": 14, "baseline": "middle"},
 "encoding": {"x": {"field": "f", "type": "quantitative", "scale": {"domain": [1, 7], "nice": false}}, "y": {"field": "v", "type": "quantitative", "scale": {"domain": [0.8, 1.005], "nice": false, "zero": false}}, "text": {"field": "m"}, "fill": {"field": "p", "type": "nominal", "legend": {"title": null}}}},
{"data": {"values": [{"t": "b"}]},
 "mark": {"type": "text", "font": "Liberation Sans", "fontSize": 20, "fontWeight": "bold", "baseline": "middle", "clip": false},
 "encoding": {"text": {"field": "t"}, "x": {"datum": 0.045, "scale": {"domain": [1, 7], "nice": false}}, "y": {"datum": 1.013, "scale": {"domain": [0.8, 1.005], "nice": false, "zero": false}}}}
]
},
{
"title": {"text": "Stomach", "offset": -3}, "width": 245, "height": 178,
"layer": [
{"data": {"name": "pts"}, "transform": [{"filter": "datum.o === 'Stomach'"}],
 "mark": {"type": "point", "filled": true, "size": 203, "fillOpacity": 0.75, "strokeWidth": 0.8, "strokeOpacity": 0.9},
 "encoding": {
  "x": {"field": "f", "type": "quantitative", "scale": {"domain": [1, 7], "nice": false}, "axis": {"values": [1,2,3,4,5,6,7], "tickCount": 20, "format": "d", "title": null}},
  "y": {"field": "v", "type": "quantitative", "scale": {"domain": [0.6, 1.0], "nice": false, "zero": false}, "axis": {"values": [0.6,0.7,0.8,0.9,1.0], "tickCount": 20, "format": ".1f", "title": "DSC-2D"}},
  "color": {"field": "s", "type": "nominal", "legend": {"title": null}}, "stroke": {"field": "s", "type": "nominal", "legend": {"title": null}}, "shape": {"field": "s", "type": "nominal", "legend": {"title": null}}}},
{"data": {"name": "means"}, "transform": [{"filter": "datum.o === 'Stomach'"}],
 "mark": {"type": "point", "filled": true, "size": 400, "opacity": 1, "strokeWidth": 0.8},
 "encoding": {"x": {"field": "f", "type": "quantitative", "scale": {"domain": [1, 7], "nice": false}}, "y": {"field": "v", "type": "quantitative", "scale": {"domain": [0.6, 1.0], "nice": false, "zero": false}},
  "color": {"field": "s", "type": "nominal", "legend": {"title": null}}, "stroke": {"field": "s", "type": "nominal", "legend": {"title": null}}, "shape": {"field": "s", "type": "nominal", "legend": {"title": null}}}},
{"data": {"name": "trend"}, "transform": [{"filter": "datum.o === 'Stomach'"}],
 "mark": {"type": "line", "strokeWidth": 2.5},
 "encoding": {"x": {"field": "f", "type": "quantitative", "scale": {"domain": [1, 7], "nice": false}}, "y": {"field": "v", "type": "quantitative", "scale": {"domain": [0.6, 1.0], "nice": false, "zero": false}},
  "stroke": {"field": "s", "type": "nominal", "legend": null},
  "strokeDash": {"field": "s", "type": "nominal", "scale": {"domain": ["Linear (Mean_S5)","Linear (Mean_S3)"], "range": [[8,5],[2.5,2.5]]}, "legend": null}}},
{"data": {"name": "sig"}, "transform": [{"filter": "datum.o === 'Stomach'"}],
 "mark": {"type": "text", "font": "Liberation Sans", "fontSize": 14, "baseline": "middle"},
 "encoding": {"x": {"field": "f", "type": "quantitative", "scale": {"domain": [1, 7], "nice": false}}, "y": {"field": "v", "type": "quantitative", "scale": {"domain": [0.6, 1.0], "nice": false, "zero": false}}, "text": {"field": "m"}, "fill": {"field": "p", "type": "nominal", "legend": {"title": null}}}},
{"data": {"values": [{"t": "c"}]},
 "mark": {"type": "text", "font": "Liberation Sans", "fontSize": 20, "fontWeight": "bold", "baseline": "middle", "clip": false},
 "encoding": {"text": {"field": "t"}, "x": {"datum": 0.28, "scale": {"domain": [1, 7], "nice": false}}, "y": {"datum": 0.993, "scale": {"domain": [0.6, 1.0], "nice": false, "zero": false}}}}
]
},
{
"title": {"text": "Duodenum", "offset": -6}, "width": 245, "height": 178,
"layer": [
{"data": {"name": "pts"}, "transform": [{"filter": "datum.o === 'Duodenum'"}],
 "mark": {"type": "point", "filled": true, "size": 203, "fillOpacity": 0.75, "strokeWidth": 0.8, "strokeOpacity": 0.9},
 "encoding": {
  "x": {"field": "f", "type": "quantitative", "scale": {"domain": [1, 7], "nice": false}, "axis": {"values": [1,2,3,4,5,6,7], "tickCount": 20, "format": "d", "title": null}},
  "y": {"field": "v", "type": "quantitative", "scale": {"domain": [0.55, 1.005], "nice": false, "zero": false}, "axis": {"values": [0.55,0.65,0.75,0.85,0.95], "tickCount": 20, "format": ".2f", "title": "DSC-2D"}},
  "color": {"field": "s", "type": "nominal", "legend": {"title": null}}, "stroke": {"field": "s", "type": "nominal", "legend": {"title": null}}, "shape": {"field": "s", "type": "nominal", "legend": {"title": null}}}},
{"data": {"name": "means"}, "transform": [{"filter": "datum.o === 'Duodenum'"}],
 "mark": {"type": "point", "filled": true, "size": 400, "opacity": 1, "strokeWidth": 0.8},
 "encoding": {"x": {"field": "f", "type": "quantitative", "scale": {"domain": [1, 7], "nice": false}}, "y": {"field": "v", "type": "quantitative", "scale": {"domain": [0.55, 1.005], "nice": false, "zero": false}},
  "color": {"field": "s", "type": "nominal", "legend": {"title": null}}, "stroke": {"field": "s", "type": "nominal", "legend": {"title": null}}, "shape": {"field": "s", "type": "nominal", "legend": {"title": null}}}},
{"data": {"name": "trend"}, "transform": [{"filter": "datum.o === 'Duodenum'"}],
 "mark": {"type": "line", "strokeWidth": 2.5},
 "encoding": {"x": {"field": "f", "type": "quantitative", "scale": {"domain": [1, 7], "nice": false}}, "y": {"field": "v", "type": "quantitative", "scale": {"domain": [0.55, 1.005], "nice": false, "zero": false}},
  "stroke": {"field": "s", "type": "nominal", "legend": null},
  "strokeDash": {"field": "s", "type": "nominal", "scale": {"domain": ["Linear (Mean_S5)","Linear (Mean_S3)"], "range": [[8,5],[2.5,2.5]]}, "legend": null}}},
{"data": {"name": "sig"}, "transform": [{"filter": "datum.o === 'Duodenum'"}],
 "mark": {"type": "text", "font": "Liberation Sans", "fontSize": 14, "baseline": "middle"},
 "encoding": {"x": {"field": "f", "type": "quantitative", "scale": {"domain": [1, 7], "nice": false}}, "y": {"field": "v", "type": "quantitative", "scale": {"domain": [0.55, 1.005], "nice": false, "zero": false}}, "text": {"field": "m"}, "fill": {"field": "p", "type": "nominal", "legend": {"title": null}}}},
{"data": {"values": [{"t": "d"}]},
 "mark": {"type": "text", "font": "Liberation Sans", "fontSize": 20, "fontWeight": "bold", "baseline": "middle", "clip": false},
 "encoding": {"text": {"field": "t"}, "x": {"datum": 0.07, "scale": {"domain": [1, 7], "nice": false}}, "y": {"datum": 1.0, "scale": {"domain": [0.55, 1.005], "nice": false, "zero": false}}}}
]
},
{
"title": {"text": "Small Bowel", "offset": 1}, "width": 245, "height": 178,
"layer": [
{"data": {"name": "pts"}, "transform": [{"filter": "datum.o === 'Small Bowel'"}],
 "mark": {"type": "point", "filled": true, "size": 203, "fillOpacity": 0.75, "strokeWidth": 0.8, "strokeOpacity": 0.9},
 "encoding": {
  "x": {"field": "f", "type": "quantitative", "scale": {"domain": [1, 7], "nice": false}, "axis": {"values": [1,2,3,4,5,6,7], "tickCount": 20, "format": "d", "title": "Fraction Number"}},
  "y": {"field": "v", "type": "quantitative", "scale": {"domain": [0.3, 1.0], "nice": false, "zero": false}, "axis": {"values": [0.3,0.4,0.5,0.6,0.7,0.8,0.9,1.0], "tickCount": 20, "format": ".1f", "title": "DSC-2D"}},
  "color": {"field": "s", "type": "nominal", "legend": {"title": null}}, "stroke": {"field": "s", "type": "nominal", "legend": {"title": null}}, "shape": {"field": "s", "type": "nominal", "legend": {"title": null}}}},
{"data": {"name": "means"}, "transform": [{"filter": "datum.o === 'Small Bowel'"}],
 "mark": {"type": "point", "filled": true, "size": 400, "opacity": 1, "strokeWidth": 0.8},
 "encoding": {"x": {"field": "f", "type": "quantitative", "scale": {"domain": [1, 7], "nice": false}}, "y": {"field": "v", "type": "quantitative", "scale": {"domain": [0.3, 1.0], "nice": false, "zero": false}},
  "color": {"field": "s", "type": "nominal", "legend": {"title": null}}, "stroke": {"field": "s", "type": "nominal", "legend": {"title": null}}, "shape": {"field": "s", "type": "nominal", "legend": {"title": null}}}},
{"data": {"name": "trend"}, "transform": [{"filter": "datum.o === 'Small Bowel'"}],
 "mark": {"type": "line", "strokeWidth": 2.5},
 "encoding": {"x": {"field": "f", "type": "quantitative", "scale": {"domain": [1, 7], "nice": false}}, "y": {"field": "v", "type": "quantitative", "scale": {"domain": [0.3, 1.0], "nice": false, "zero": false}},
  "stroke": {"field": "s", "type": "nominal", "legend": null},
  "strokeDash": {"field": "s", "type": "nominal", "scale": {"domain": ["Linear (Mean_S5)","Linear (Mean_S3)"], "range": [[8,5],[2.5,2.5]]}, "legend": null}}},
{"data": {"name": "sig"}, "transform": [{"filter": "datum.o === 'Small Bowel'"}],
 "mark": {"type": "text", "font": "Liberation Sans", "fontSize": 14, "baseline": "middle"},
 "encoding": {"x": {"field": "f", "type": "quantitative", "scale": {"domain": [1, 7], "nice": false}}, "y": {"field": "v", "type": "quantitative", "scale": {"domain": [0.3, 1.0], "nice": false, "zero": false}}, "text": {"field": "m"}, "fill": {"field": "p", "type": "nominal", "legend": {"title": null}}}},
{"data": {"values": [{"t": "e"}]},
 "mark": {"type": "text", "font": "Liberation Sans", "fontSize": 20, "fontWeight": "bold", "baseline": "middle", "clip": false},
 "encoding": {"text": {"field": "t"}, "x": {"datum": 0.25, "scale": {"domain": [1, 7], "nice": false}}, "y": {"datum": 0.984, "scale": {"domain": [0.3, 1.0], "nice": false, "zero": false}}}}
]
},
{
"title": {"text": "Colon", "offset": -7}, "width": 245, "height": 178,
"layer": [
{"data": {"name": "pts"}, "transform": [{"filter": "datum.o === 'Colon'"}],
 "mark": {"type": "point", "filled": true, "size": 203, "fillOpacity": 0.75, "strokeWidth": 0.8, "strokeOpacity": 0.9},
 "encoding": {
  "x": {"field": "f", "type": "quantitative", "scale": {"domain": [1, 7], "nice": false}, "axis": {"values": [1,2,3,4,5,6,7], "tickCount": 20, "format": "d", "title": "Fraction Number"}},
  "y": {"field": "v", "type": "quantitative", "scale": {"domain": [0.3, 1.0], "nice": false, "zero": false}, "axis": {"values": [0.3,0.4,0.5,0.6,0.7,0.8,0.9,1.0], "tickCount": 20, "format": ".1f", "title": "DSC-2D"}},
  "color": {"field": "s", "type": "nominal", "legend": {"title": null}}, "stroke": {"field": "s", "type": "nominal", "legend": {"title": null}}, "shape": {"field": "s", "type": "nominal", "legend": {"title": null}}}},
{"data": {"name": "means"}, "transform": [{"filter": "datum.o === 'Colon'"}],
 "mark": {"type": "point", "filled": true, "size": 400, "opacity": 1, "strokeWidth": 0.8},
 "encoding": {"x": {"field": "f", "type": "quantitative", "scale": {"domain": [1, 7], "nice": false}}, "y": {"field": "v", "type": "quantitative", "scale": {"domain": [0.3, 1.0], "nice": false, "zero": false}},
  "color": {"field": "s", "type": "nominal", "legend": {"title": null}}, "stroke": {"field": "s", "type": "nominal", "legend": {"title": null}}, "shape": {"field": "s", "type": "nominal", "legend": {"title": null}}}},
{"data": {"name": "trend"}, "transform": [{"filter": "datum.o === 'Colon'"}],
 "mark": {"type": "line", "strokeWidth": 2.5},
 "encoding": {"x": {"field": "f", "type": "quantitative", "scale": {"domain": [1, 7], "nice": false}}, "y": {"field": "v", "type": "quantitative", "scale": {"domain": [0.3, 1.0], "nice": false, "zero": false}},
  "stroke": {"field": "s", "type": "nominal", "legend": null},
  "strokeDash": {"field": "s", "type": "nominal", "scale": {"domain": ["Linear (Mean_S5)","Linear (Mean_S3)"], "range": [[8,5],[2.5,2.5]]}, "legend": null}}},
{"data": {"name": "sig"}, "transform": [{"filter": "datum.o === 'Colon'"}],
 "mark": {"type": "text", "font": "Liberation Sans", "fontSize": 14, "baseline": "middle"},
 "encoding": {"x": {"field": "f", "type": "quantitative", "scale": {"domain": [1, 7], "nice": false}}, "y": {"field": "v", "type": "quantitative", "scale": {"domain": [0.3, 1.0], "nice": false, "zero": false}}, "text": {"field": "m"}, "fill": {"field": "p", "type": "nominal", "legend": {"title": null}}}},
{"data": {"values": [{"t": "f"}]},
 "mark": {"type": "text", "font": "Liberation Sans", "fontSize": 20, "fontWeight": "bold", "baseline": "middle", "clip": false},
 "encoding": {"text": {"field": "t"}, "x": {"datum": 0.118, "scale": {"domain": [1, 7], "nice": false}}, "y": {"datum": 1.016, "scale": {"domain": [0.3, 1.0], "nice": false, "zero": false}}}}
]
}
],
"config": {
 "view": {"stroke": "#000000", "strokeWidth": 2.2},
 "axis": {"domain": false, "ticks": false, "labelOverlap": false, "labelFont": "Liberation Serif", "labelFontWeight": "bold", "labelFontSize": 10, "labelColor": "#000000", "gridColor": "#8a8a8a", "gridDash": [6, 3, 1, 3], "gridWidth": 0.8, "labelPadding": 4},
 "axisX": {"titleFont": "Liberation Serif", "titleFontSize": 16, "titleFontWeight": "bold", "titleColor": "#000000", "titlePadding": 3, "labelPadding": 3},
 "axisY": {"titleFont": "Liberation Sans", "titleFontSize": 15, "titleFontWeight": "bold", "titleColor": "#000000", "titlePadding": 5},
 "title": {"font": "Liberation Serif", "fontSize": 16, "fontWeight": "bold", "color": "#000000"},
 "legend": {"labelFont": "Liberation Sans", "labelFontWeight": "bold", "labelFontSize": 10.5, "labelColor": "#000000", "symbolSize": 225, "symbolStrokeWidth": 0.8, "labelOffset": 8, "rowPadding": 3, "padding": 0}
}
}
